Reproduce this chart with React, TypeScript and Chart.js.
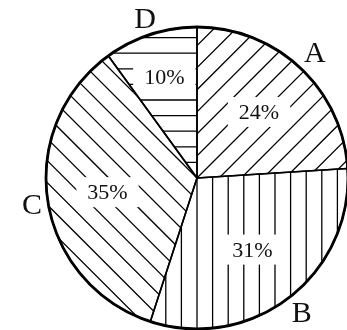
import React, { useEffect, useRef } from "react";
import { Chart, registerables } from "chart.js";

Chart.register(...registerables);

const categories = ["A", "B", "C", "D"];
const values = [24, 31, 35, 10];
// hatch line directions (degrees, canvas coords): "/", "|", "\", "-"
const hatchAngles = [-45, 90, 45, 0];
const pctRadiusFactor = [0.6, 0.6, 0.6, 0.7];

const FONT = "'Liberation Serif', 'Times New Roman', serif";

const hatchPlugin = {
  id: "hatchLabels",
  beforeDatasetsDraw(chart: any) {
    const ctx = chart.ctx as CanvasRenderingContext2D;
    const meta = chart.getDatasetMeta(0);
    const spacing = 15.6;
    meta.data.forEach((arc: any, i: number) => {
      const { x, y, startAngle, endAngle, outerRadius } = arc.getProps(
        ["x", "y", "startAngle", "endAngle", "outerRadius"],
        true
      );
      ctx.save();
      ctx.beginPath();
      ctx.moveTo(x, y);
      ctx.arc(x, y, outerRadius, startAngle, endAngle);
      ctx.closePath();
      ctx.clip();
      const a = (hatchAngles[i] * Math.PI) / 180;
      const dx = Math.cos(a), dy = Math.sin(a);
      const nx = -dy, ny = dx;
      const L = outerRadius + 20;
      const N = Math.ceil(L / spacing) + 1;
      ctx.strokeStyle = "#000";
      ctx.lineWidth = 1.3;
      ctx.beginPath();
      for (let k = -N; k <= N; k++) {
        const px = x + nx * k * spacing;
        const py = y + ny * k * spacing;
        ctx.moveTo(px - dx * L, py - dy * L);
        ctx.lineTo(px + dx * L, py + dy * L);
      }
      ctx.stroke();
      ctx.restore();

      // percentage label with white box
      const mid = (startAngle + endAngle) / 2;
      const r = outerRadius * pctRadiusFactor[i];
      const cx = x + Math.cos(mid) * r;
      const cy = y + Math.sin(mid) * r;
      const text = `${values[i]}%`;
      ctx.save();
      ctx.font = `22px ${FONT}`;
      const m = ctx.measureText(text);
      const bw = m.width + 22;
      const bh = 30;
      ctx.fillStyle = "#fff";
      ctx.fillRect(cx - bw / 2, cy - bh / 2, bw, bh);
      ctx.fillStyle = "#111";
      ctx.textAlign = "center";
      ctx.textBaseline = "alphabetic";
      const asc = m.actualBoundingBoxAscent, desc = m.actualBoundingBoxDescent;
      ctx.fillText(text, cx, cy + (asc - desc) / 2);
      ctx.restore();
    });
  },
  afterDatasetsDraw(chart: any) {
    const ctx = chart.ctx as CanvasRenderingContext2D;
    const meta = chart.getDatasetMeta(0);
    const first = meta.data[0];
    const { x, y, outerRadius } = first.getProps(["x", "y", "outerRadius"], true);
    ctx.save();
    ctx.beginPath();
    ctx.arc(x, y, outerRadius, 0, Math.PI * 2);
    ctx.lineWidth = 2.8;
    ctx.strokeStyle = "#000";
    ctx.stroke();
    ctx.restore();

    meta.data.forEach((arc: any, i: number) => {
      const { startAngle, endAngle } = arc.getProps(["startAngle", "endAngle"], true);
      const mid = (startAngle + endAngle) / 2;
      const ux = Math.cos(mid), uy = Math.sin(mid);
      const px = x + ux * (outerRadius + 4);
      const py = y + uy * (outerRadius + 4);
      const text = categories[i];
      ctx.save();
      ctx.font = `30px ${FONT}`;
      const m = ctx.measureText(text);
      const w = m.actualBoundingBoxLeft + m.actualBoundingBoxRight;
      const h = m.actualBoundingBoxAscent + m.actualBoundingBoxDescent;
      const hw = w / 2 + 3, hh = h / 2 + 3;
      const d = Math.min(
        Math.abs(ux) > 1e-6 ? hw / Math.abs(ux) : Infinity,
        Math.abs(uy) > 1e-6 ? hh / Math.abs(uy) : Infinity
      );
      const cx = px + ux * d;
      const cy = py + uy * d;
      ctx.fillStyle = "#111";
      ctx.textAlign = "center";
      ctx.textBaseline = "alphabetic";
      ctx.fillText(text, cx, cy + (m.actualBoundingBoxAscent - m.actualBoundingBoxDescent) / 2);
      ctx.restore();
    });
  },
};

export default function App() {
  const ref = useRef<HTMLCanvasElement | null>(null);
  useEffect(() => {
    if (!ref.current) return;
    const chart = new Chart(ref.current, {
      type: "pie",
      data: {
        labels: categories,
        datasets: [
          {
            data: values,
            backgroundColor: "rgba(0,0,0,0)",
            borderColor: "#000",
            borderWidth: 1.6,
          },
        ],
      },
      options: {
        responsive: false,
        animation: false,
        radius: 151,
        layout: { padding: { left: 47, top: 26, right: 0, bottom: 0 } },
        plugins: {
          legend: { display: false },
          tooltip: { enabled: false },
        },
      } as any,
      plugins: [hatchPlugin],
    });
    return () => chart.destroy();
  }, []);
  return (
    <div style={{ position: "fixed", left: 0, top: 0, width: 347, height: 330, background: "#fff" }}>
      <canvas ref={ref} width={347} height={330} style={{ display: "block" }} />
    </div>
  );
}
